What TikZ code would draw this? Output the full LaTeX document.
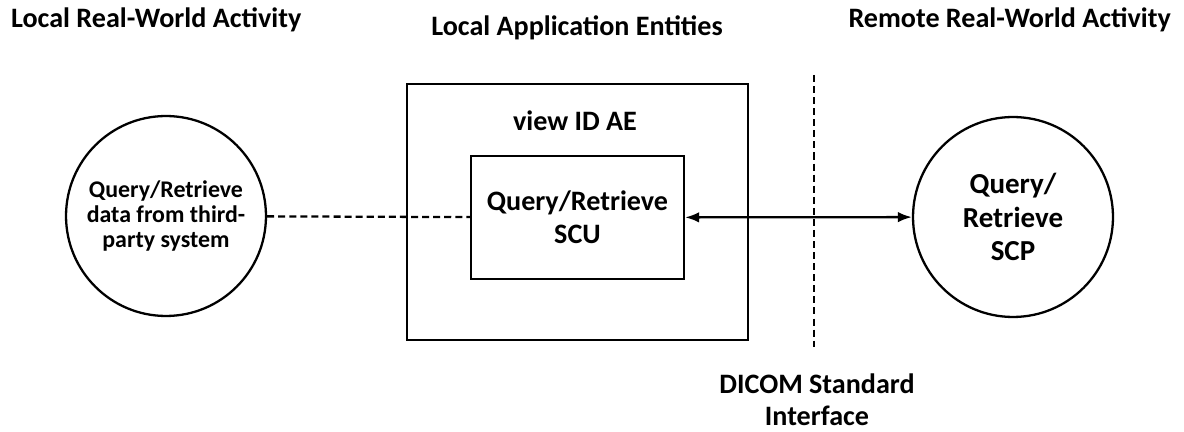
\documentclass[tikz,border=0pt]{standalone}
\usepackage{fontspec}
\setmainfont{Carlito}
\usetikzlibrary{positioning}
\usetikzlibrary{arrows.meta}

\begin{document}
\begin{tikzpicture}[x=0.02cm, y=-0.02cm, line width=1.3pt,
  title/.style={inner sep=0pt, font=\bfseries\fontsize{16}{19}\selectfont},
  activity/.style={draw, circle, minimum size=4cm, inner sep=0pt, align=center, font=\bfseries\fontsize{13.6}{14.4}\selectfont},
  aebox/.style={draw, rectangle, inner sep=0pt},
  dashline/.style={dash pattern=on 4pt off 2.3pt}]
\useasboundingbox (0,0) rectangle (1184,432);
\node[title, anchor=west] (localtitle) at (10,20) {Local Real-World Activity};
\node[title] (aetitle) at (577,28) {Local Application Entities};
\node[title, anchor=east] (remotetitle) at (1172,20) {Remote Real-World Activity};
\node[aebox, minimum width=6.82cm, minimum height=5.12cm] (ae) at (577.5,212) {};
\node[title] (aename) at (575,121) {view ID AE};
\node[aebox, minimum width=4.26cm, minimum height=2.46cm, align=center, font=\bfseries\fontsize{16}{19}\selectfont] (scu) at (577.5,217.5) {Query/Retrieve\\SCU};
\node[activity] (local) at (166,216) {Query/Retrieve\\data from third-\\party system};
\node[activity, font=\bfseries\fontsize{16.5}{19}\selectfont] (scp) at (1013,217) {Query/\\Retrieve\\SCP};
\coordinate (ifacetop) at (814,75);
\coordinate (ifacebot) at (814,347);
\node[title, align=center, font=\bfseries\fontsize{16}{18}\selectfont] (iface) at (817,400) {DICOM Standard\\Interface};
\draw[dashline] (local) -- (scu);
\draw[<->, >={Latex[length=8pt,width=6pt]}] (scu) -- (scp);
\draw[dashline] (ifacetop) -- (ifacebot);
\end{tikzpicture}
\end{document}
